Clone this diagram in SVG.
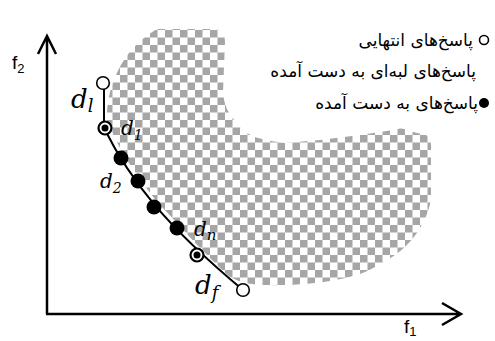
<svg xmlns="http://www.w3.org/2000/svg" width="495" height="341" viewBox="0 0 495 341">
<style>
.ax{fill:none;stroke:#000;stroke-width:2.5}
.ln{fill:none;stroke:#000;stroke-width:2}
.open{fill:#fff;stroke:#000;stroke-width:1.6}
.full{fill:#000}
.ring{fill:#fff;stroke:#000;stroke-width:2.2}
.lg{font-family:"DejaVu Sans",sans-serif;font-size:17px;fill:#000}
.ax-t{font-family:"Liberation Sans",Arial,sans-serif;fill:#000}
.m{font-family:"DejaVu Serif",serif;font-style:italic;fill:#000}
</style>
<defs>
<pattern id="chk" patternUnits="userSpaceOnUse" width="15" height="15">
<rect x="0" y="0" width="15" height="15" fill="#fff"/>
<rect x="0" y="0" width="7.5" height="7.5" fill="#a6a6a6"/>
<rect x="7.5" y="7.5" width="7.5" height="7.5" fill="#a6a6a6"/>
</pattern>
</defs>
<rect width="495" height="341" fill="#fff"/>
<g id="region">
<path fill="url(#chk)" d="M107,120 C106,90 120,50 157,29 L216,29 Q225,30 225,42 L223,92 Q224,110 236,122 Q244,134 258,138 Q272,142 285,143 L320,140 L360,135 L393,130 Q403,126 413,132 L426,135 Q431,137 431,145 L431,200 Q428,215 420,228 C410,245 395,258 365,272 C340,282 300,286 265,285 Q245,285 230,277 C200,250 175,220 158,203 C140,180 125,160 112,132 Z"/>
</g>
<g id="axes">
<path class="ax" d="M47,314 L47,37 M38,54 L47,36 L56,54"/>
<path class="ax" d="M46,314 L460,314 M442,303 L461,314 L442,325"/>
<text class="ax-t" x="12" y="69" font-size="19">f<tspan font-size="13" dy="4">2</tspan></text>
<text class="ax-t" x="404" y="333" font-size="19">f<tspan font-size="13" dy="3">1</tspan></text>
</g>
<g id="connectors">
<path class="ln" d="M104,89 L104,128"/>
<path class="ln" d="M104,128 C130,180 165,225 243,290"/>
</g>
<g id="d_l">
<circle class="open" cx="103" cy="83" r="6.3"/>
<text class="m" x="71" y="108" font-size="26">d<tspan font-size="18" dy="4">l</tspan></text>
</g>
<g id="d_1">
<circle class="ring" cx="105" cy="128" r="6.5"/>
<circle class="full" cx="105" cy="128" r="3.5"/>
<text class="m" x="121" y="135" font-size="20">d<tspan font-size="14" dy="5">1</tspan></text>
</g>
<g id="p1"><circle class="full" cx="121" cy="158" r="7.5"/></g>
<g id="d_2">
<circle class="full" cx="138" cy="181" r="7.5"/>
<text class="m" x="100" y="188" font-size="20">d<tspan font-size="14" dy="5">2</tspan></text>
</g>
<g id="p3"><circle class="full" cx="154" cy="207" r="7.5"/></g>
<g id="p4"><circle class="full" cx="177" cy="228" r="7.5"/></g>
<g id="d_n">
<circle class="ring" cx="197" cy="255" r="6.5"/>
<circle class="full" cx="197" cy="255" r="3.5"/>
<text class="m" x="194" y="236" font-size="20">d<tspan font-size="15" dy="4">n</tspan></text>
</g>
<g id="d_f">
<circle class="open" cx="243" cy="290" r="6.3"/>
<text class="m" x="195" y="294" font-size="26">d<tspan font-size="18" dy="5">f</tspan></text>
</g>
<g id="legend">
<circle class="open" cx="484" cy="40" r="4.5" stroke-width="1.4"/>
<text class="lg" x="473" y="46" text-anchor="end">پاسخ‌های انتهایی</text>
<text class="lg" x="476" y="77" text-anchor="end">پاسخ‌های لبه‌ای به دست آمده</text>
<circle class="full" cx="484" cy="103" r="5"/>
<text class="lg" x="478" y="109" text-anchor="end">پاسخ‌های به دست آمده</text>
</g>
</svg>
